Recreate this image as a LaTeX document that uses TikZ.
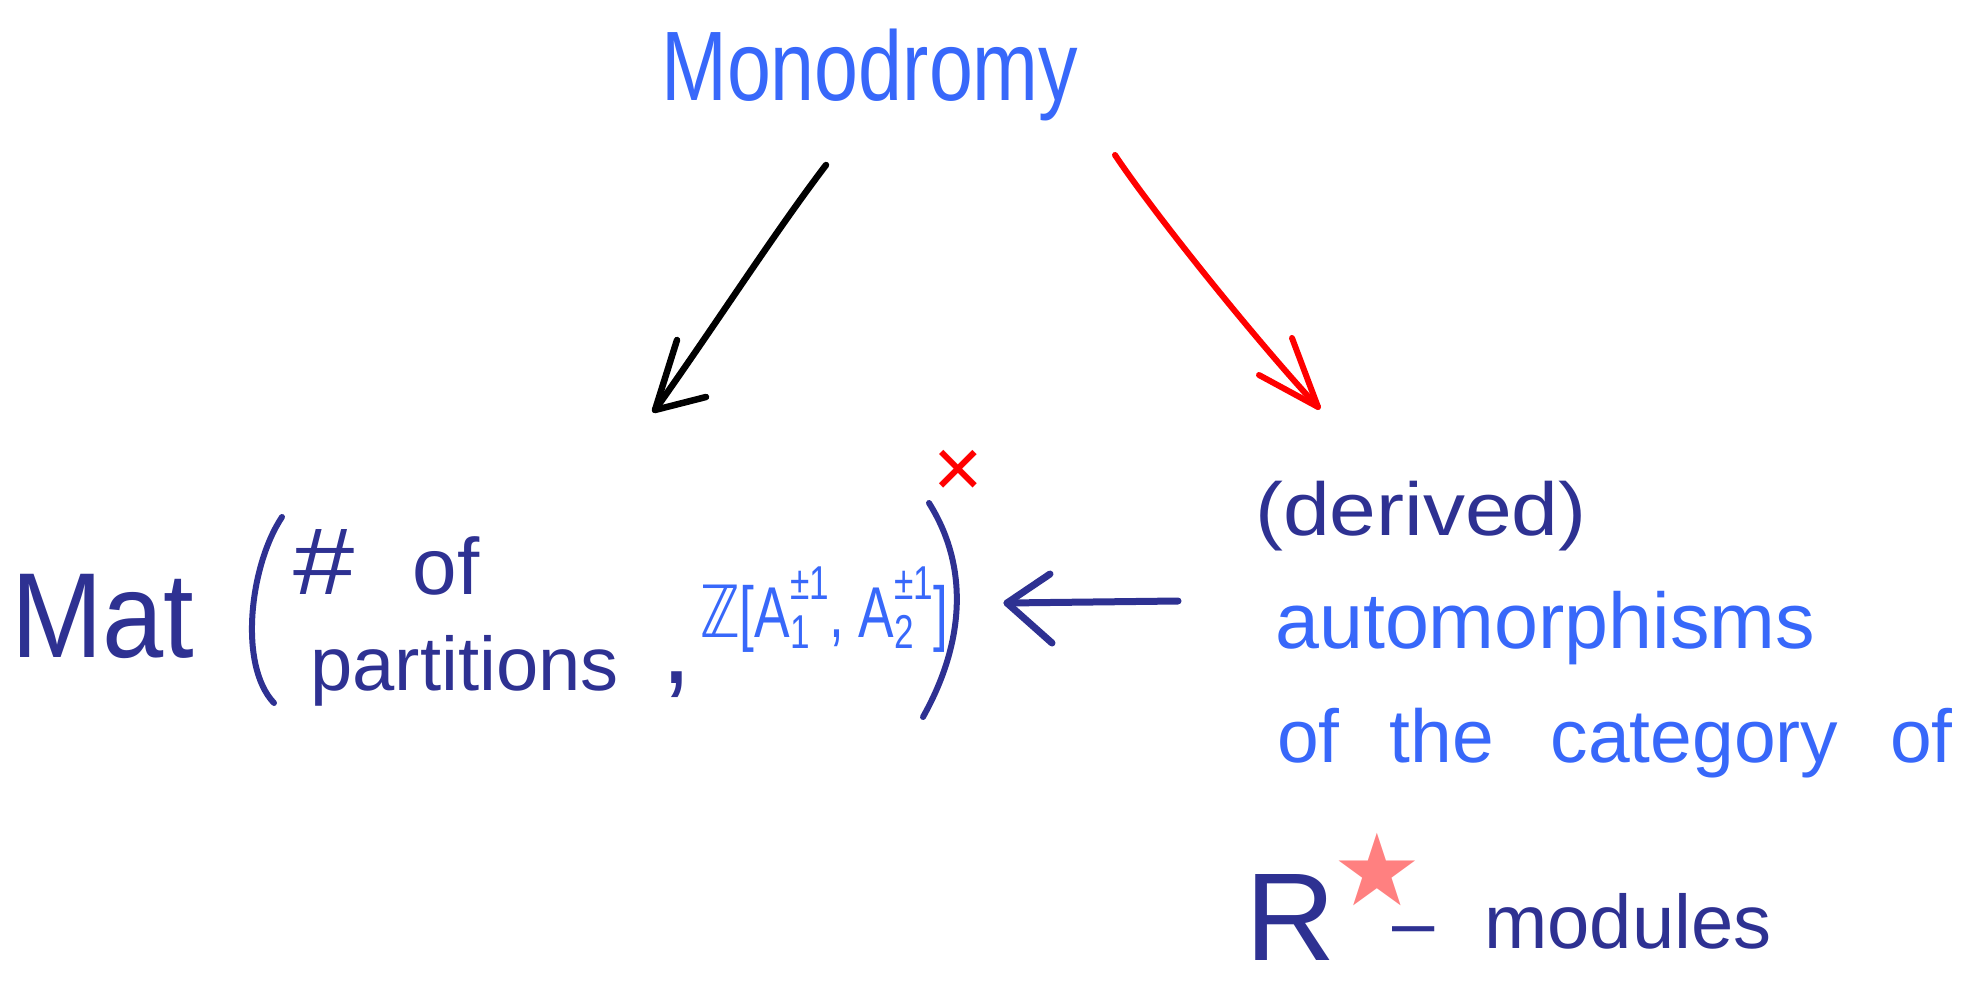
\documentclass[tikz,border=0pt]{standalone}
\usepackage{fontspec}
\setmainfont{Liberation Sans}
\newfontfamily\dejavu{DejaVu Sans}
\definecolor{navyink}{RGB}{46,49,146}
\definecolor{blueink}{RGB}{56,104,250}
\definecolor{redink}{RGB}{255,0,0}
\definecolor{starink}{RGB}{255,128,128}
\newcommand{\fsz}[1]{\fontsize{#1}{#1}\selectfont}
\newcommand{\supsub}[2]{\rlap{\raisebox{-0.16em}{\scalebox{0.66}{#2}}}\raisebox{0.52em}{\scalebox{0.66}{#1}}}
\begin{document}
\begin{tikzpicture}[x=1pt,y=-1pt,
  txt/.style={inner sep=0pt, anchor=base west},
  ink/.style={line width=6.5pt, line cap=round, line join=round},
]
\useasboundingbox (0,0) rectangle (1975,985);

% top
\node[txt, text=blueink] (mono) at (661,100) {\fsz{79}\scalebox{1}[1.25]{Monodromy}};

% left block
\node[txt, text=navyink] (mat) at (11,657) {\fsz{110}\scalebox{1}[1.1]{Mat}};
\draw[ink, line width=6pt, navyink] (282,517) .. controls (250,565) and (238,665) .. (274,703);
\node[txt, text=navyink] (numof) at (293,594) {{\fsz{100}\scalebox{1.1}[0.95]{\#}}\fsz{80} \hspace{36pt}of};
\node[txt, text=navyink] (part) at (310,690) {\fsz{76}partitions};
\node[txt, text=navyink] (comma) at (661,683) {\fsz{110},};
\node[txt, text=blueink] (ring) at (700,637) {\fsz{72}\scalebox{0.74}[1]{{\dejavu ℤ}[A\supsub{±1}{1}, A\supsub{±1}{2}]}};
\draw[ink, line width=6pt, navyink] (929,503) .. controls (968,565) and (966,640) .. (923,717);
\node[text=redink, inner sep=0pt] (units) at (958,474) {\fsz{85}×};

% right block
\node[txt, text=navyink] (derived) at (1255,535) {\fsz{75}\scalebox{1.12}[1]{(derived)}};
\node[txt, text=blueink] (auto) at (1275,648) {\fsz{79}automorphisms};
\node[txt, text=blueink] (cat) at (1277,762) {\fsz{75}of \hspace{29pt}the \hspace{36pt}category \hspace{31pt}of};
\node[txt, text=navyink] (R) at (1245,960) {\fsz{125}R};
\node[text=starink, inner sep=0pt] (star) at (1377,870) {\dejavu\fsz{100}★};
\node[txt, text=navyink] (dash) at (1392,948) {\fsz{76}–};
\node[txt, text=navyink] (mods) at (1484,948) {\fsz{76}modules};

% arrows
\coordinate (bs) at (826,165);
\coordinate (bt) at (655,410);
\draw[ink, black] (bs) .. controls (775,232) and (720,318) .. (bt);
\draw[ink, black] (bt) ++(22,-70) -- (bt) -- ++(51,-13);

\coordinate (rs) at (1115,155);
\coordinate (rt) at (1318,407);
\draw[ink, redink, line width=6pt] (rs) .. controls (1155,215) and (1260,345) .. (rt);
\draw[ink, redink, line width=6pt] (rt) ++(-26,-69) -- (rt) -- ++(-59,-32);

\coordinate (ns) at (1178,601);
\coordinate (nt) at (1007,603);
\draw[ink, navyink, line width=7pt] (ns) -- (nt);
\draw[ink, navyink, line width=7pt] (nt) ++(43,-29) -- (nt) -- ++(45,40);
\end{tikzpicture}
\end{document}
